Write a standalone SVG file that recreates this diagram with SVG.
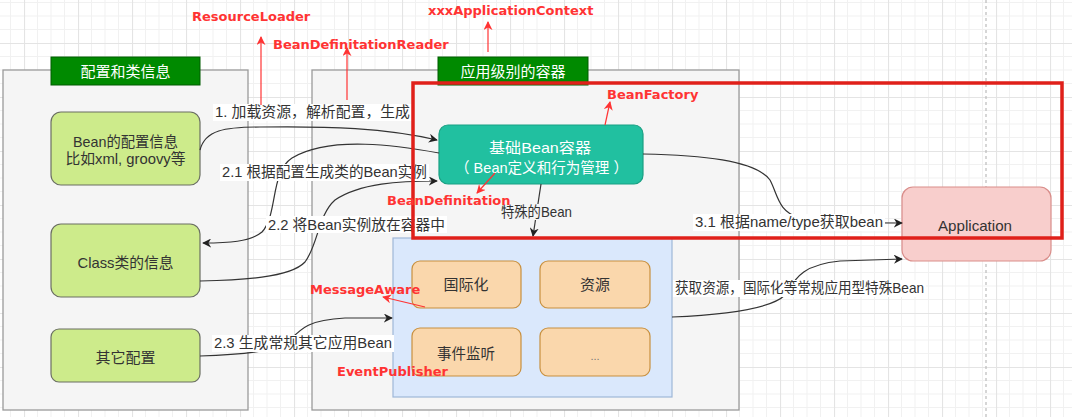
<svg xmlns="http://www.w3.org/2000/svg" width="1072" height="417" viewBox="0 0 1072 417">
<defs>
<pattern id="grid" x="24" y="43" width="54" height="54" patternUnits="userSpaceOnUse">
<path d="M13.5,0V54M27,0V54M40.5,0V54M0,13.5H54M0,27H54M0,40.5H54" stroke="#f1f1f1" stroke-width="1" fill="none"/>
<path d="M0.5,0V54M0,0.5H54" stroke="#e4e4e4" stroke-width="1.2" fill="none"/>
</pattern>
<marker id="arr" viewBox="0 0 10 10" refX="9" refY="5" markerWidth="9" markerHeight="9" markerUnits="userSpaceOnUse" orient="auto">
<path d="M0,0 L10,5 L0,10 L3,5 z" fill="#222"/>
</marker>
<marker id="rarr" viewBox="0 0 10 10" refX="9" refY="5" markerWidth="9" markerHeight="9" markerUnits="userSpaceOnUse" orient="auto">
<path d="M0,0 L10,5 L0,10 L3,5 z" fill="#ff3333"/>
</marker>
<style>
text{font-family:"Liberation Sans","Noto Sans CJK SC",sans-serif;}
.t{font-size:15px;fill:#333;text-anchor:middle;dominant-baseline:central;}
.lbl{font-size:14.5px;fill:#333;dominant-baseline:central;}
.hd{font-size:15px;fill:#fff;text-anchor:middle;dominant-baseline:central;}
.red{font-family:"DejaVu Sans","Noto Sans CJK SC",sans-serif;font-weight:bold;font-size:13px;fill:#ff3333;dominant-baseline:central;}
.cont{fill:#f5f5f5;stroke:#9a9a9a;stroke-width:1.3;}
.hdr{fill:#008a00;stroke:#005c00;stroke-width:1;}
.green{fill:#cdeb8b;stroke:#6b6f63;stroke-width:1.2;}
.orange{fill:#fad7ac;stroke:#c8903f;stroke-width:1.2;}
.conn{fill:none;stroke:#333;stroke-width:1.2;marker-end:url(#arr);}
.rconn{fill:none;stroke:#ff3333;stroke-width:1.2;marker-end:url(#rarr);}
.bg{fill:#fff;}
</style>
</defs>
<rect width="1072" height="417" fill="#fff"/>
<rect width="1072" height="417" fill="url(#grid)"/>
<line x1="986" y1="0" x2="986" y2="417" stroke="#bbb" stroke-width="1.2" stroke-dasharray="3,3"/>

<g id="container-left">
<rect class="cont" x="3" y="70" width="245" height="340"/>
</g>
<g id="container-mid">
<rect class="cont" x="312" y="70" width="427" height="340"/>
</g>
<g id="header-left">
<rect class="hdr" x="51" y="57" width="149" height="28"/>
<text class="hd" x="125.5" y="71" textLength="90" lengthAdjust="spacingAndGlyphs">配置和类信息</text>
</g>
<g id="header-mid">
<rect class="hdr" x="438" y="57" width="150" height="28"/>
<text class="hd" x="513" y="71" textLength="105" lengthAdjust="spacingAndGlyphs">应用级别的容器</text>
</g>

<g id="node-bean-config">
<rect class="green" x="51" y="112" width="149" height="73" rx="10"/>
<text class="t" x="125.5" y="141" textLength="105" lengthAdjust="spacingAndGlyphs">Bean的配置信息</text>
<text class="t" x="125.5" y="158" textLength="120" lengthAdjust="spacingAndGlyphs">比如xml, groovy等</text>
</g>
<g id="node-class">
<rect class="green" x="51" y="224" width="149" height="73" rx="10"/>
<text class="t" x="125.5" y="262" textLength="96" lengthAdjust="spacingAndGlyphs">Class类的信息</text>
</g>
<g id="node-other">
<rect class="green" x="51" y="329" width="149" height="53" rx="8"/>
<text class="t" x="125.5" y="357" textLength="60" lengthAdjust="spacingAndGlyphs">其它配置</text>
</g>
<g id="node-core">
<rect x="439" y="125" width="204" height="59" rx="9" fill="#21c0a0" stroke="#19a083" stroke-width="1.2"/>
<text class="t" x="540" y="147" style="fill:#fff" textLength="102" lengthAdjust="spacingAndGlyphs">基础Bean容器</text>
<text class="t" x="541.5" y="167" style="fill:#fff" textLength="173" lengthAdjust="spacingAndGlyphs">（ Bean定义和行为管理 ）</text>
</g>
<g id="node-special">
<rect x="393" y="238" width="279" height="159" fill="#dae8fc" stroke="#9fb7d8" stroke-width="1.2"/>
</g>
<g id="node-i18n">
<rect class="orange" x="412" y="261" width="109" height="47" rx="8"/>
<text class="t" x="466" y="284" textLength="45" lengthAdjust="spacingAndGlyphs">国际化</text>
</g>
<g id="node-res">
<rect class="orange" x="540" y="261" width="110" height="47" rx="8"/>
<text class="t" x="595" y="284" textLength="30" lengthAdjust="spacingAndGlyphs">资源</text>
</g>
<g id="node-event">
<rect class="orange" x="412" y="328" width="109" height="48" rx="8"/>
<text class="t" x="466" y="353" textLength="58" lengthAdjust="spacingAndGlyphs">事件监听</text>
</g>
<g id="node-more">
<rect class="orange" x="540" y="328" width="110" height="48" rx="8"/>
<text class="t" x="595" y="356" style="font-size:11px;fill:#777">...</text>
</g>
<g id="node-app">
<rect x="902" y="187" width="149" height="74" rx="11" fill="#f8cecc" stroke="#d98d8a" stroke-width="1.2"/>
<text class="t" x="975" y="225" textLength="74" lengthAdjust="spacingAndGlyphs">Application</text>
</g>

<g id="connectors">
<path class="conn" d="M200,150 C205,130 225,127 260,127 C330,126 385,128 437,140"/>
<path class="conn" d="M439,153 C400,146 330,135 292,158 C270,172 278,215 262,232 C250,242 228,243 203,243"/>
<path class="conn" d="M200,281 C240,280 290,278 305,262 C318,245 318,215 335,200 C360,183 400,181 437,181"/>
<path class="conn" d="M541,184 L533,236"/>
<path class="conn" d="M200,356 C235,355 268,352 285,345 C300,330 305,320 345,318 L392,318"/>
<path class="conn" d="M643,154 C700,155 755,160 770,180 C778,195 778,212 800,218 C820,223 860,223 902,223"/>
<path class="conn" d="M672,317 C720,315 770,310 785,295 C795,280 800,265 840,261 L902,259"/>
</g>

<g id="labels">
<rect class="bg" x="213" y="104" width="199" height="17"/>
<text class="lbl" x="215" y="112" textLength="195" lengthAdjust="spacingAndGlyphs">1. 加载资源，解析配置，生成</text>
<rect class="bg" x="220" y="164" width="209" height="17"/>
<text class="lbl" x="222" y="172" textLength="205" lengthAdjust="spacingAndGlyphs">2.1  根据配置生成类的Bean实例</text>
<rect class="bg" x="266" y="216" width="181" height="17"/>
<text class="lbl" x="268" y="225" textLength="177" lengthAdjust="spacingAndGlyphs">2.2 将Bean实例放在容器中</text>
<rect x="499" y="204" width="76" height="16" fill="#f5f5f5"/>
<text class="lbl" x="501" y="212" textLength="71" lengthAdjust="spacingAndGlyphs">特殊的Bean</text>
<rect class="bg" x="212" y="335" width="182" height="17"/>
<text class="lbl" x="214" y="343" textLength="178" lengthAdjust="spacingAndGlyphs">2.3 生成常规其它应用Bean</text>
<rect class="bg" x="693" y="214" width="192" height="17"/>
<text class="lbl" x="695" y="222" textLength="188" lengthAdjust="spacingAndGlyphs">3.1 根据name/type获取bean</text>
<rect class="bg" x="673" y="280" width="253" height="17"/>
<text class="lbl" x="675" y="288" textLength="249" lengthAdjust="spacingAndGlyphs">获取资源，国际化等常规应用型特殊Bean</text>
</g>

<g id="highlight">
<rect x="413" y="83" width="649" height="155" fill="none" stroke="#e0201a" stroke-width="3.5"/>
</g>

<g id="annotations">
<path class="rconn" d="M261,105 L261,37"/>
<path class="rconn" d="M347,100 L347,48"/>
<path class="rconn" d="M488,52 L488,22"/>
<path class="rconn" d="M605,125 L610,102"/>
<path class="rconn" d="M495,173 L477,193"/>
<path class="rconn" d="M425,307 L383,297"/>
<text class="red" x="192" y="16">ResourceLoader</text>
<text class="red" x="273" y="44">BeanDefinitationReader</text>
<text class="red" x="428" y="10">xxxApplicationContext</text>
<text class="red" x="607" y="94">BeanFactory</text>
<text class="red" x="387" y="200">BeanDefinitation</text>
<text class="red" x="310" y="289">MessageAware</text>
<text class="red" x="337" y="371">EventPublisher</text>
</g>
</svg>
